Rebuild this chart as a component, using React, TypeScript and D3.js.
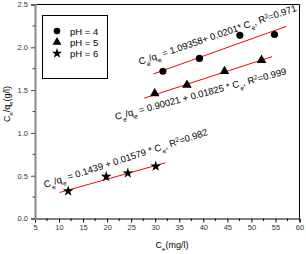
import React, { useEffect, useRef } from 'react';
import * as d3 from 'd3';

// values
const ceAt4 = [31.6, 39.2, 47.6, 54.8];
const qAt4 = [1.72, 1.87, 2.14, 2.15];
const ceAt5 = [29.9, 36.6, 44.4, 52.1];
const qAt5 = [1.46, 1.56, 1.72, 1.85];
const ceAt6 = [11.9, 19.8, 24.3, 30.1];
const qAt6 = [0.32, 0.49, 0.53, 0.61];

// fitted lines: intercept, slope, x range drawn
const fitIntercepts = [1.09358, 0.90021, 0.1439];
const fitSlopes = [0.0201, 0.01825, 0.01579];
const fitRanges = [[29.6, 57.3], [27.7, 54.3], [10.1, 32.1]];

const legendLabels = ['pH = 4', 'pH = 5', 'pH = 6'];
const fitMiddles = [' = 1.09358+ 0.0201* C', ' = 0.90021 + 0.01825 * C', ' = 0.1439 + 0.01579 * C'];
const fitR2 = ['=0.971', '=0.999', '=0.982'];

const xTicks = [5, 10, 15, 20, 25, 30, 35, 40, 45, 50, 55, 60];
const yTicks = [0, 0.5, 1, 1.5, 2, 2.5];

const W = 306;
const H = 254;
const font = 'Arial, "Liberation Sans", sans-serif';

const App = () => {
  const ref = useRef<SVGSVGElement>(null);

  useEffect(() => {
    const svg = d3.select(ref.current);
    svg.selectAll('*').remove();

    const x = d3.scaleLinear().domain([5, 60]).range([35, 299.5]);
    const y = d3.scaleLinear().domain([0, 2.5]).range([218.5, 4.5]);

    // frame
    svg.append('line').attr('x1', x(5)).attr('x2', x(60)).attr('y1', y(2.5)).attr('y2', y(2.5))
      .attr('stroke', '#000').attr('stroke-width', 1);
    svg.append('line').attr('x1', x(60)).attr('x2', x(60)).attr('y1', y(2.5)).attr('y2', y(0))
      .attr('stroke', '#000').attr('stroke-width', 1);

    // bottom axis
    const xAxis = svg.append('g').attr('transform', `translate(0, ${y(0)})`)
      .call(d3.axisBottom(x).tickValues(xTicks).tickSize(4).tickPadding(2).tickFormat(d3.format('d')));
    xAxis.select('.domain').attr('stroke', '#000');
    xAxis.selectAll('text').attr('font-size', 7.5).attr('font-family', font).attr('fill', '#333');
    xAxis.append('g').selectAll('line')
      .data(d3.range(7.5, 60, 5))
      .enter().append('line')
      .attr('x1', (d) => x(d)).attr('x2', (d) => x(d)).attr('y1', 0).attr('y2', 2.5)
      .attr('stroke', '#000');

    // left axis
    const yAxis = svg.append('g').attr('transform', `translate(${x(5)}, 0)`)
      .call(d3.axisLeft(y).tickValues(yTicks).tickSize(4).tickPadding(3).tickFormat(d3.format('.1f')));
    yAxis.select('.domain').attr('stroke', '#888').attr('stroke-width', 2);
    yAxis.selectAll('.tick line').attr('stroke', '#444');
    yAxis.selectAll('text').attr('font-size', 7.5).attr('font-family', font).attr('fill', '#333');
    yAxis.append('g').selectAll('line')
      .data(d3.range(0.25, 2.5, 0.5))
      .enter().append('line')
      .attr('x1', 0).attr('x2', -2.5).attr('y1', (d) => y(d)).attr('y2', (d) => y(d))
      .attr('stroke', '#444');

    // axis titles
    const yTitle = svg.append('text')
      .attr('transform', `translate(10, 104) rotate(-90)`)
      .attr('text-anchor', 'middle')
      .attr('font-family', font).attr('font-size', 9);
    yTitle.append('tspan').text('C');
    yTitle.append('tspan').attr('baseline-shift', 'sub').attr('font-size', 6).text('e');
    yTitle.append('tspan').text('/q');
    yTitle.append('tspan').attr('baseline-shift', 'sub').attr('font-size', 6).text('e');
    yTitle.append('tspan').text('(g/l)');

    const xTitle = svg.append('text')
      .attr('x', 172).attr('y', 248)
      .attr('text-anchor', 'middle')
      .attr('font-family', font).attr('font-size', 9);
    xTitle.append('tspan').text('C');
    xTitle.append('tspan').attr('baseline-shift', 'sub').attr('font-size', 6).text('e');
    xTitle.append('tspan').text('(mg/l)');

    // fit lines
    fitIntercepts.forEach((a, i) => {
      const b = fitSlopes[i];
      const [x0, x1] = fitRanges[i];
      svg.append('line')
        .attr('x1', x(x0)).attr('y1', y(a + b * x0))
        .attr('x2', x(x1)).attr('y2', y(a + b * x1))
        .attr('stroke', '#ff0000').attr('stroke-width', 1);
    });

    // points
    const sets = [
      { xs: ceAt4, ys: qAt4, sym: d3.symbolCircle, size: 40 },
      { xs: ceAt5, ys: qAt5, sym: d3.symbolTriangle, size: 40 },
      { xs: ceAt6, ys: qAt6, sym: d3.symbolStar, size: 36 },
    ];
    sets.forEach((s) => {
      svg.append('g').selectAll('path')
        .data(s.xs)
        .enter().append('path')
        .attr('d', d3.symbol().type(s.sym).size(s.size)())
        .attr('transform', (d, j) => `translate(${x(d)}, ${y(s.ys[j])})`)
        .attr('fill', '#000');
    });

    // equations
    const eqPlaces = [
      { px: 140, py: 65, angle: -19 },
      { px: 116, py: 120, angle: -15 },
      { px: 45, py: 188, angle: -18 },
    ];
    eqPlaces.forEach((p, i) => {
      const t = svg.append('text')
        .attr('transform', `translate(${p.px}, ${p.py}) rotate(${p.angle})`)
        .attr('font-family', font).attr('font-size', 9.5);
      t.append('tspan').text('C');
      t.append('tspan').attr('baseline-shift', 'sub').attr('font-size', 6.5).text('e');
      t.append('tspan').text('/q');
      t.append('tspan').attr('baseline-shift', 'sub').attr('font-size', 6.5).text('e');
      t.append('tspan').text(fitMiddles[i]);
      t.append('tspan').attr('baseline-shift', 'sub').attr('font-size', 6.5).text('e');
      t.append('tspan').text(', R');
      t.append('tspan').attr('baseline-shift', 'super').attr('font-size', 6.5).text('2');
      t.append('tspan').text(fitR2[i]);
    });

    // legend
    const lg = svg.append('g');
    lg.append('rect').attr('x', 42.5).attr('y', 15.5).attr('width', 65).attr('height', 63)
      .attr('fill', 'none').attr('stroke', '#000').attr('stroke-width', 1);
    legendLabels.forEach((lab, i) => {
      const ly = 31 + i * 11.2;
      lg.append('path')
        .attr('d', d3.symbol().type(sets[i].sym).size(i === 2 ? 32 : 34)())
        .attr('transform', `translate(57, ${ly})`)
        .attr('fill', '#000');
      lg.append('text').attr('x', 70).attr('y', ly + 3.5)
        .attr('font-family', font).attr('font-size', 9.5)
        .text(lab);
    });
  }, []);

  return (
    <svg ref={ref} width={W} height={H}
      style={{ position: 'absolute', left: 0, top: 0, background: '#fff' }} />
  );
};

export default App;
